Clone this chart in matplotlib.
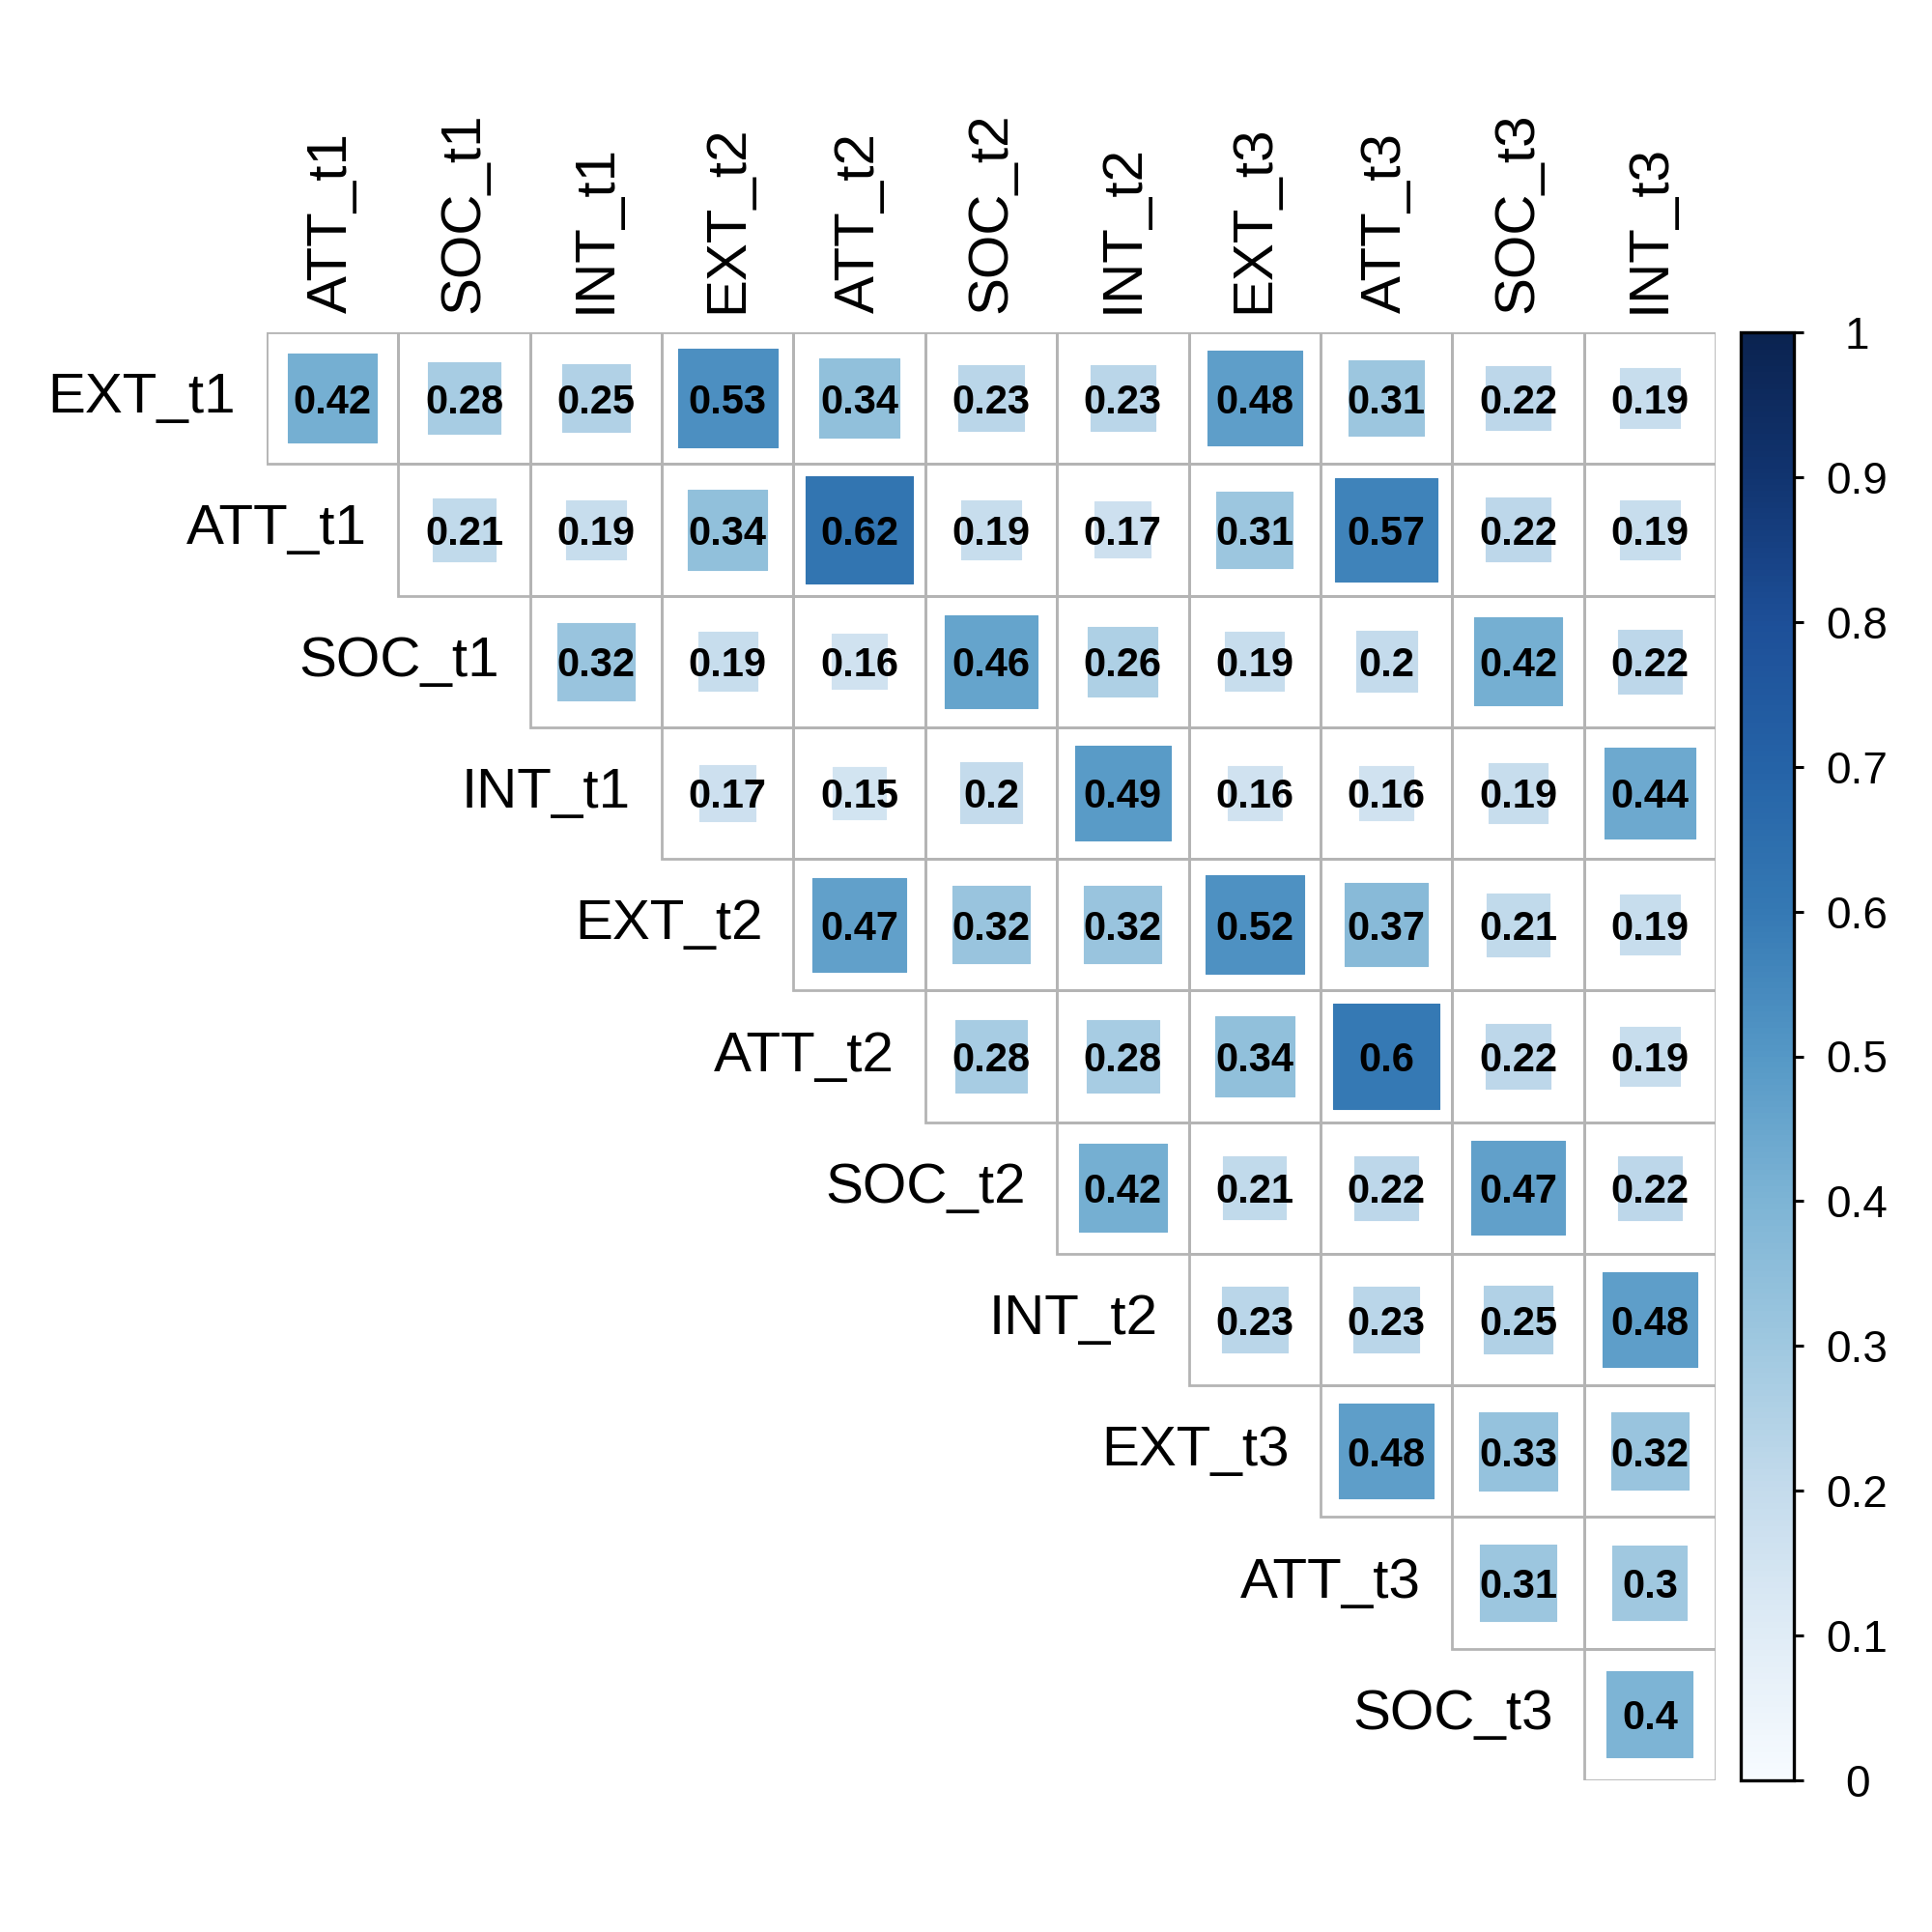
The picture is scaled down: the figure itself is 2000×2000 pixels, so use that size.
import numpy as np
import matplotlib
matplotlib.use("Agg")
from matplotlib import pyplot as plt
from matplotlib.patches import Rectangle
from matplotlib.colors import LinearSegmentedColormap, Normalize
from matplotlib.cm import ScalarMappable

plt.rcParams['font.family'] = ['Liberation Sans', 'DejaVu Sans']

row_names = ["EXT_t1", "ATT_t1", "SOC_t1", "INT_t1", "EXT_t2", "ATT_t2",
             "SOC_t2", "INT_t2", "EXT_t3", "ATT_t3", "SOC_t3"]
col_names = ["ATT_t1", "SOC_t1", "INT_t1", "EXT_t2", "ATT_t2", "SOC_t2",
             "INT_t2", "EXT_t3", "ATT_t3", "SOC_t3", "INT_t3"]

# upper triangle: row i holds columns i..10
r_ext_t1 = [0.42, 0.28, 0.25, 0.53, 0.34, 0.23, 0.23, 0.48, 0.31, 0.22, 0.19]
r_att_t1 = [0.21, 0.19, 0.34, 0.62, 0.19, 0.17, 0.31, 0.57, 0.22, 0.19]
r_soc_t1 = [0.32, 0.19, 0.16, 0.46, 0.26, 0.19, 0.2, 0.42, 0.22]
r_int_t1 = [0.17, 0.15, 0.2, 0.49, 0.16, 0.16, 0.19, 0.44]
r_ext_t2 = [0.47, 0.32, 0.32, 0.52, 0.37, 0.21, 0.19]
r_att_t2 = [0.28, 0.28, 0.34, 0.6, 0.22, 0.19]
r_soc_t2 = [0.42, 0.21, 0.22, 0.47, 0.22]
r_int_t2 = [0.23, 0.23, 0.25, 0.48]
r_ext_t3 = [0.48, 0.33, 0.32]
r_att_t3 = [0.31, 0.3]
r_soc_t3 = [0.4]
rows = [r_ext_t1, r_att_t1, r_soc_t1, r_int_t1, r_ext_t2, r_att_t2,
        r_soc_t2, r_int_t2, r_ext_t3, r_att_t3, r_soc_t3]

cbar_ticks = [0, 0.1, 0.2, 0.3, 0.4, 0.5, 0.6, 0.7, 0.8, 0.9, 1]
cbar_labels = ["0", "0.1", "0.2", "0.3", "0.4", "0.5", "0.6", "0.7", "0.8", "0.9", "1"]

blues = LinearSegmentedColormap.from_list("blues", [
    (0.0, "#f7fbff"), (0.1, "#e0ecf6"), (0.2, "#c4dbec"), (0.3, "#9fc8e0"),
    (0.4, "#7db4d5"), (0.5, "#5598c6"), (0.6, "#3579b4"), (0.7, "#2563a7"),
    (0.8, "#1d4f98"), (0.9, "#113470"), (1.0, "#0b2350")])
norm = Normalize(0, 1)

fig = plt.figure(figsize=(10, 10), dpi=200)
ax = fig.add_axes([0.138, 0.0785, 0.75, 0.7495])
n = len(col_names)
ax.set_xlim(0, n)
ax.set_ylim(n, 0)
ax.axis('off')

grid_col = "#b4b4b4"
for i, vals in enumerate(rows):
    for k, v in enumerate(vals):
        j = i + k
        ax.add_patch(Rectangle((j, i), 1, 1, facecolor='none',
                               edgecolor=grid_col, linewidth=1.0, zorder=1))
        side = np.sqrt(abs(v)) * 1.035
        c = blues(norm(v))
        ax.add_patch(Rectangle((j + 0.5 - side / 2, i + 0.5 - side / 2), side, side,
                               facecolor=c, edgecolor=c, linewidth=0.4,
                               joinstyle='round', zorder=2))
        ax.text(j + 0.5, i + 0.5, f"{v:g}", ha='center', va='center_baseline',
                fontsize=15, fontweight='bold', color='black', zorder=3)

for i, name in enumerate(row_names):
    ax.text(i - 0.235, i + 0.5, name, ha='right', va='center', fontsize=21)
for j, name in enumerate(col_names):
    ax.text(j + 0.5, -0.15, name, ha='center', va='bottom', rotation=90,
            fontsize=21)

cax = fig.add_axes([0.901, 0.0785, 0.0275, 0.7495])
cb = fig.colorbar(ScalarMappable(norm=norm, cmap=blues), cax=cax)
cb.outline.set_linewidth(1.2)
cb.outline.set_edgecolor('black')
cb.set_ticks(cbar_ticks)
cb.set_ticklabels(cbar_labels)
cax.tick_params(axis='y', length=3.6, width=1.1, color='black', pad=20,
                labelsize=16.5, direction='out')
for lab in cax.get_yticklabels():
    lab.set_horizontalalignment('center')

fig.savefig("out.png", dpi=200, facecolor='white')
